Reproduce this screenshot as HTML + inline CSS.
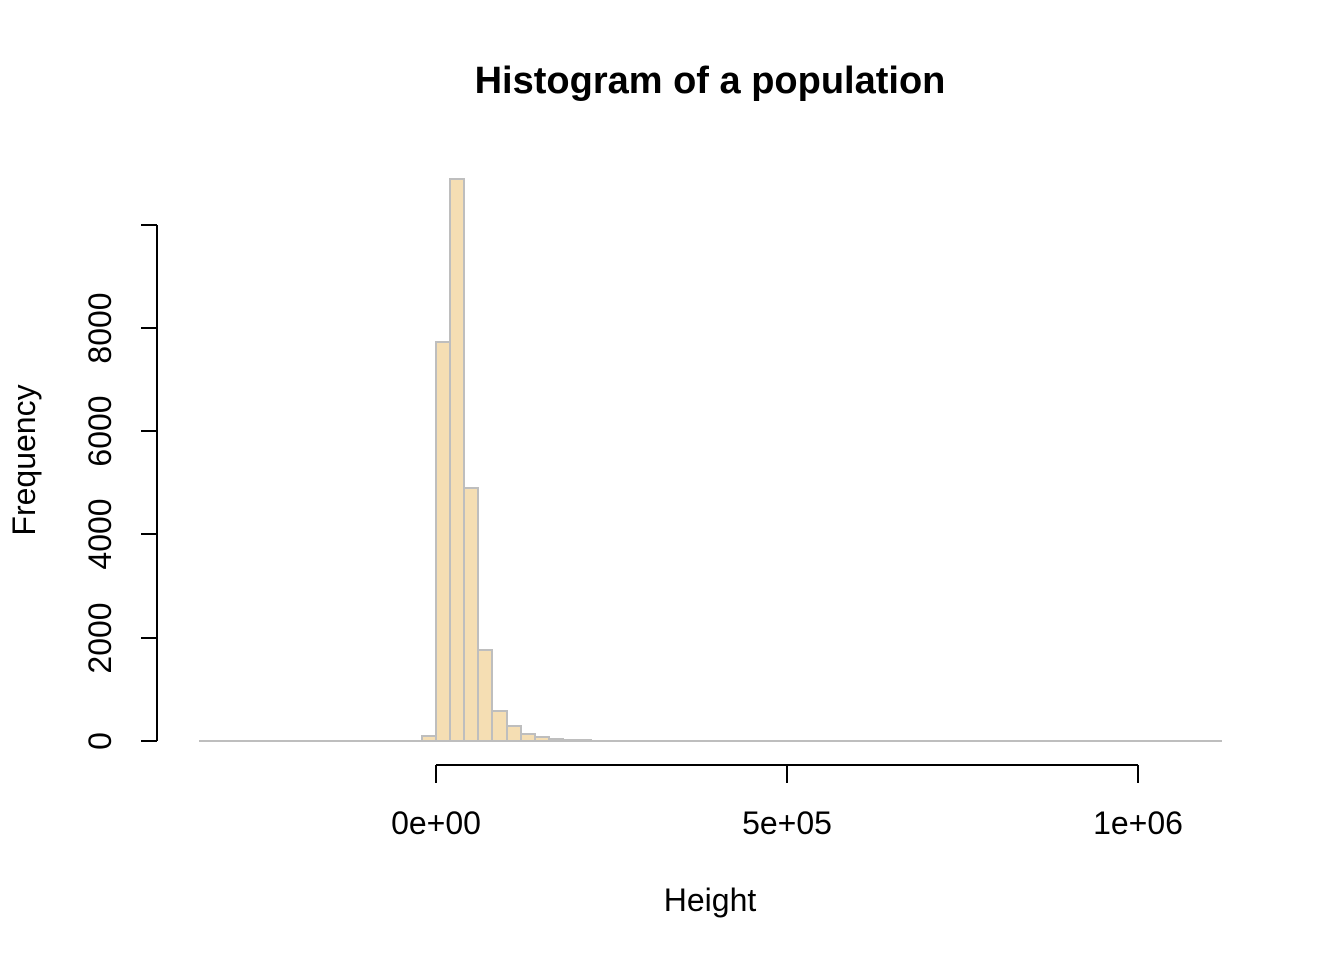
<!DOCTYPE html>
<html><head><meta charset="utf-8"><style>
html,body{margin:0;padding:0;background:#fff;}
svg{display:block;font-family:"Liberation Sans",Arial,sans-serif;}
</style></head><body>
<svg width="1344" height="960" viewBox="0 0 1344 960">
<text x="710" y="93" text-anchor="middle" font-size="38" font-weight="bold">Histogram of a population</text>
<g fill="#f5deb3" stroke="#bebebe" stroke-width="2">
<rect x="422" y="736" width="14" height="5"/>
<rect x="436" y="342" width="14" height="399"/>
<rect x="450" y="179" width="14" height="562"/>
<rect x="464" y="488" width="14" height="253"/>
<rect x="478" y="650" width="14" height="91"/>
<rect x="492" y="711" width="15" height="30"/>
<rect x="507" y="726" width="14" height="15"/>
<rect x="521" y="734" width="14" height="7"/>
<rect x="535" y="737" width="14" height="4"/>
<rect x="549" y="739" width="14" height="2"/>
<rect x="563" y="740" width="14" height="1"/>
<rect x="577" y="740" width="14" height="1"/>
</g>
<line x1="199" y1="741" x2="1222" y2="741" stroke="#bebebe" stroke-width="2"/>
<g stroke="#000" stroke-width="2" fill="none">
<line x1="157" y1="741" x2="157" y2="225"/>
<line x1="141" y1="741" x2="157" y2="741"/>
<line x1="141" y1="638" x2="157" y2="638"/>
<line x1="141" y1="534" x2="157" y2="534"/>
<line x1="141" y1="431" x2="157" y2="431"/>
<line x1="141" y1="328" x2="157" y2="328"/>
<line x1="141" y1="225" x2="157" y2="225"/>
<line x1="436" y1="765" x2="1138" y2="765"/>
<line x1="436" y1="765" x2="436" y2="783"/>
<line x1="787" y1="765" x2="787" y2="783"/>
<line x1="1138" y1="765" x2="1138" y2="783"/>
</g>
<g font-size="32" text-anchor="middle">
<text x="436" y="834">0e+00</text>
<text x="787" y="834">5e+05</text>
<text x="1138" y="834">1e+06</text>
<text x="710" y="911">Height</text>
<text transform="translate(111,741) rotate(-90)">0</text>
<text transform="translate(111,638) rotate(-90)">2000</text>
<text transform="translate(111,534) rotate(-90)">4000</text>
<text transform="translate(111,431) rotate(-90)">6000</text>
<text transform="translate(111,328) rotate(-90)">8000</text>
<text transform="translate(35,460) rotate(-90)">Frequency</text>
</g>
</svg>
</body></html>
